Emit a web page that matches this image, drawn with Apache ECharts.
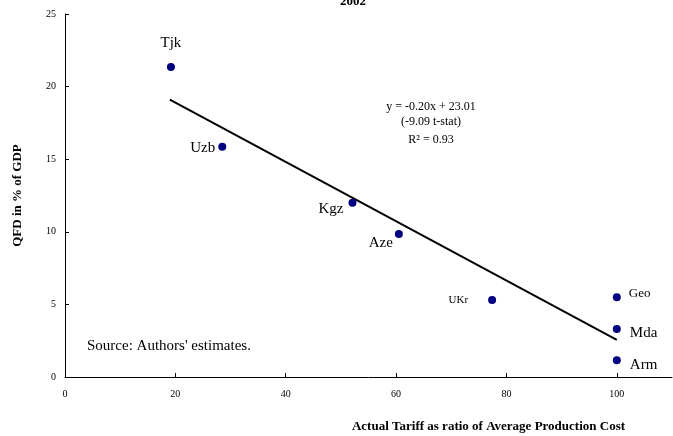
<!DOCTYPE html>
<html><head><meta charset="utf-8">
<script src="https://cdn.jsdelivr.net/npm/echarts@6/dist/echarts.min.js"></script>
<style>html,body{margin:0;padding:0;background:#fff}#c{width:673px;height:436px}</style>
</head><body><div id="c"></div>
<script>
const countries = ['Tjk','Uzb','Kgz','Aze','UKr','Geo','Mda','Arm'];
const tariff = [19.2, 28.5, 52.1, 60.5, 77.4, 100, 100, 100];
const qfd = [21.35, 15.85, 12.0, 9.85, 5.3, 5.5, 3.3, 1.15];
const trendX = [19, 100];
const trendY = [19.1, 2.55];
const xTicks = [0, 20, 40, 60, 80, 100];
const yTicks = [0, 5, 10, 15, 20, 25];

const F = '"Liberation Serif","Times New Roman",serif';
const labelCfg = {
  Tjk: {position:'top', distance:12, fontSize:15},
  Uzb: {position:'left', distance:3, fontSize:15, offset:[0,1]},
  Kgz: {position:'left', distance:5, fontSize:15, offset:[0,6]},
  Aze: {position:'left', distance:2, fontSize:15, offset:[0,9]},
  UKr: {position:'left', distance:20, fontSize:11, offset:[0,0]},
  Geo: {position:'right', distance:8, fontSize:13, offset:[0,-4]},
  Mda: {position:'right', distance:9, fontSize:15, offset:[0,4]},
  Arm: {position:'right', distance:9, fontSize:15, offset:[0,5]}
};
const pts = countries.map((c,i)=>({
  value:[tariff[i], qfd[i]], name:c,
  label:Object.assign({show:true, formatter:c, color:'#000', fontFamily:F}, labelCfg[c])
}));
const txt = (x,y,t,size,align)=>({type:'text', x:x, y:y, silent:true,
  style:{text:t, font:size+'px '+F, fill:'#000', textAlign:align, textVerticalAlign:'middle'}});
const chart = echarts.init(document.getElementById('c'), null, {renderer:'canvas'});
chart.setOption({
  animation:false,
  backgroundColor:'#fff',
  title:{text:'2002', left:348, top:-10, textAlign:'center',
    textStyle:{fontFamily:F, fontSize:13, fontWeight:'bold', color:'#000'}},
  grid:{left:65, right:1, top:14, bottom:59, containLabel:false, outerBoundsMode:'none'},
  xAxis:{type:'value', min:0, max:110, interval:20,
    name:'Actual Tariff as ratio of Average Production Cost',
    nameLocation:'middle', nameGap:43,
    nameTextStyle:{fontFamily:F, fontSize:13, fontWeight:'bold', color:'#000', padding:[0,0,0,240]},
    axisLine:{lineStyle:{color:'#000', width:1}},
    axisTick:{inside:true, length:4, lineStyle:{color:'#000'}},
    axisLabel:{showMaxLabel:false, fontFamily:F, fontSize:10, color:'#000', margin:12,
      formatter:v=>xTicks.includes(v)?String(v):''},
    splitLine:{show:false}},
  yAxis:{type:'value', min:0, max:25, interval:5,
    name:'QFD in % of GDP', nameLocation:'middle', nameGap:41,
    nameTextStyle:{fontFamily:F, fontSize:13, fontWeight:'bold', color:'#000'},
    axisLine:{show:true, lineStyle:{color:'#000', width:1}},
    axisTick:{show:true, inside:true, length:4, lineStyle:{color:'#000'}},
    axisLabel:{fontFamily:F, fontSize:10, color:'#000', margin:9,
      formatter:v=>yTicks.includes(v)?String(v):''},
    splitLine:{show:false}},
  series:[
    {type:'line', data:trendX.map((x,i)=>[x,trendY[i]]), symbol:'none',
      lineStyle:{color:'#000', width:2}, z:1, silent:true},
    {type:'scatter', data:pts, symbolSize:8, itemStyle:{color:'#000080', opacity:1}, z:3}
  ],
  graphic:[
    txt(431, 107, 'y = -0.20x + 23.01', 12, 'center'),
    txt(431, 122, '(-9.09 t-stat)', 12, 'center'),
    txt(431, 140, 'R² = 0.93', 12, 'center'),
    txt(87, 346, "Source: Authors' estimates.", 15, 'left')
  ]
});
</script></body></html>
